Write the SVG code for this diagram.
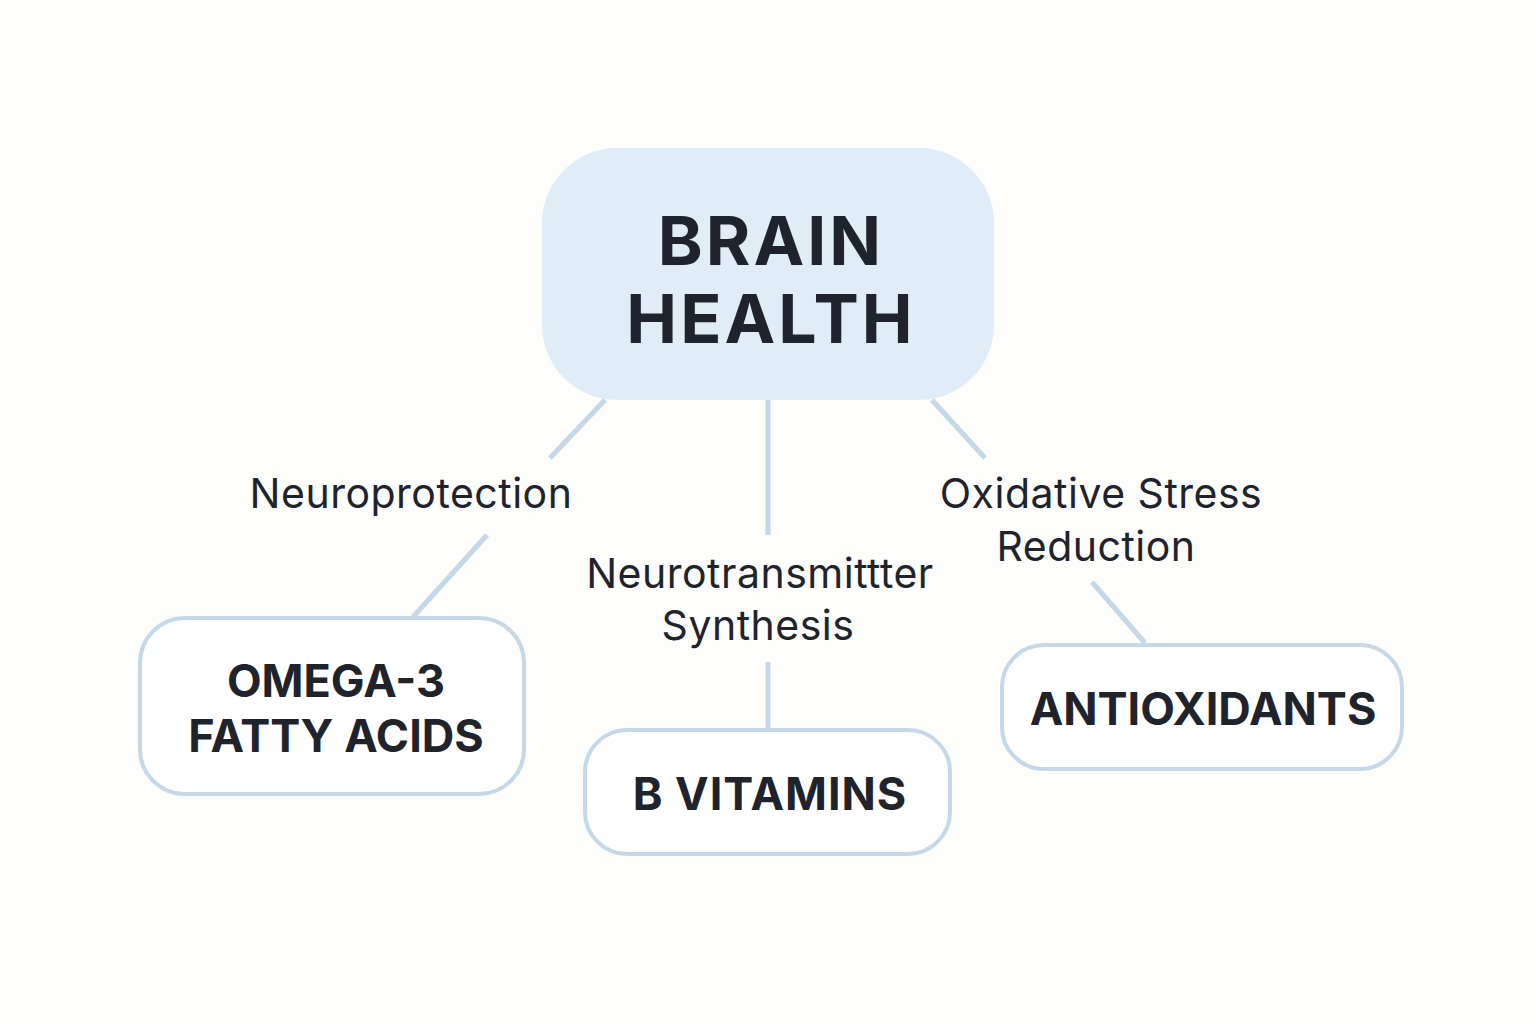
<svg xmlns="http://www.w3.org/2000/svg" width="1536" height="1024" viewBox="0 0 1536 1024">
<style>
.n{fill:#fff;stroke:#c5d8e8;stroke-width:4}
.t{font-family:Inter,"Liberation Sans",sans-serif;font-weight:700;fill:#1f232b;text-anchor:middle}
.l{font-family:Inter,"Liberation Sans",sans-serif;font-size:41px;fill:#1f232b;text-anchor:middle;letter-spacing:0.5px}
.c{stroke:#c5d8e8;stroke-width:5;fill:none}
</style>
<rect width="1536" height="1024" fill="#fdfdfc"/>
<g id="connectors">
<line class="c" x1="605" y1="400" x2="550" y2="458"/>
<line class="c" x1="487" y1="535" x2="413" y2="617"/>
<line class="c" x1="768" y1="400" x2="768" y2="535"/>
<line class="c" x1="768" y1="662" x2="768" y2="728"/>
<line class="c" x1="932" y1="400" x2="985" y2="458"/>
<line class="c" x1="1092" y1="582" x2="1145" y2="643"/>
<text class="l" x="411" y="508">Neuroprotection</text>
<text class="l" x="760" y="588">Neurotransmittter</text>
<text class="l" x="758" y="640">Synthesis</text>
<text class="l" x="1101" y="508">Oxidative Stress</text>
<text class="l" x="1096" y="561">Reduction</text>
</g>
<g id="brain">
<rect x="542" y="148" width="452" height="252" rx="75" fill="#e1edf6"/>
<text class="t" x="771" y="265" font-size="68" letter-spacing="3">BRAIN</text>
<text class="t" x="771" y="343" font-size="68" letter-spacing="3">HEALTH</text>
</g>
<g id="omega">
<rect class="n" x="140" y="618" width="384" height="176" rx="45"/>
<text class="t" x="336" y="697" font-size="45">OMEGA-3</text>
<text class="t" x="336" y="752" font-size="45">FATTY ACIDS</text>
</g>
<g id="bvit">
<rect class="n" x="585" y="730" width="365" height="124" rx="42"/>
<text class="t" x="770" y="810" font-size="45" letter-spacing="1">B VITAMINS</text>
</g>
<g id="antiox">
<rect class="n" x="1002" y="645" width="400" height="124" rx="42"/>
<text class="t" x="1203" y="725" font-size="45">ANTIOXIDANTS</text>
</g>
</svg>
